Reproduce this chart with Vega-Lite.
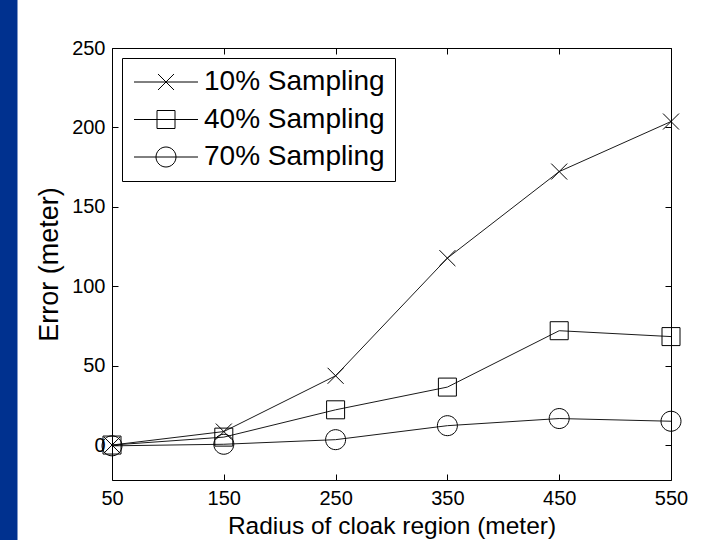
{
  "$schema": "https://vega.github.io/schema/vega-lite/v6.json",
  "width": 559,
  "height": 432,
  "autosize": {"type": "none"},
  "padding": {"left": 112, "top": 48, "right": 53, "bottom": 60},
  "background": "#00318F",
  "config": {
    "view": {"stroke": "white", "strokeWidth": 189, "fill": "white"},
    "font": "Liberation Sans",
    "axis": {
      "domainColor": "black",
      "domainWidth": 1,
      "tickColor": "black",
      "tickWidth": 1,
      "tickSize": -6,
      "grid": false,
      "labelFont": "Liberation Sans",
      "labelFontSize": 20,
      "labelColor": "black",
      "titleFont": "Liberation Sans",
      "titleFontWeight": "normal",
      "titleColor": "black"
    }
  },
  "data": {
    "values": [
      {"r": 50, "err": 0, "s": "10% Sampling"},
      {"r": 150, "err": 8.5, "s": "10% Sampling"},
      {"r": 250, "err": 43.6, "s": "10% Sampling"},
      {"r": 350, "err": 117.7, "s": "10% Sampling"},
      {"r": 450, "err": 172.2, "s": "10% Sampling"},
      {"r": 550, "err": 203.7, "s": "10% Sampling"},
      {"r": 50, "err": 0, "s": "40% Sampling"},
      {"r": 150, "err": 5, "s": "40% Sampling"},
      {"r": 250, "err": 22.2, "s": "40% Sampling"},
      {"r": 350, "err": 36.5, "s": "40% Sampling"},
      {"r": 450, "err": 72, "s": "40% Sampling"},
      {"r": 550, "err": 68.3, "s": "40% Sampling"},
      {"r": 50, "err": -0.5, "s": "70% Sampling"},
      {"r": 150, "err": 0.5, "s": "70% Sampling"},
      {"r": 250, "err": 3.4, "s": "70% Sampling"},
      {"r": 350, "err": 12.2, "s": "70% Sampling"},
      {"r": 450, "err": 16.7, "s": "70% Sampling"},
      {"r": 550, "err": 15, "s": "70% Sampling"}
    ]
  },
  "layer": [
    {
      "mark": {"type": "line", "color": "#1a1a1a", "strokeWidth": 1},
      "encoding": {
        "x": {
          "field": "r", "type": "quantitative",
          "scale": {"domain": [50, 550], "nice": false, "zero": false},
          "axis": {"orient": "bottom", "values": [50, 150, 250, 350, 450, 550], "title": "Radius of cloak region (meter)", "titleFontSize": 24.5, "labelPadding": 14, "titlePadding": 6, "labelFlush": false}
        },
        "y": {
          "field": "err", "type": "quantitative",
          "scale": {"domain": [-22, 250], "nice": false, "zero": false},
          "axis": {"orient": "left", "values": [0, 50, 100, 150, 200, 250], "title": "Error (meter)", "titleFontSize": 27, "labelPadding": 13, "titlePadding": 8, "labelFlush": false}
        },
        "detail": {"field": "s", "type": "nominal"}
      }
    },
    {
      "mark": {"type": "point", "filled": false, "stroke": "black", "strokeWidth": 1, "size": 100, "opacity": 1},
      "encoding": {
        "x": {
          "field": "r", "type": "quantitative",
          "axis": {"orient": "top", "values": [50, 150, 250, 350, 450, 550], "labels": false, "title": null}
        },
        "y": {
          "field": "err", "type": "quantitative",
          "axis": {"orient": "right", "values": [0, 50, 100, 150, 200, 250], "labels": false, "title": null}
        },
        "shape": {
          "field": "s", "type": "nominal",
          "scale": {
            "domain": ["10% Sampling", "40% Sampling", "70% Sampling"],
            "range": [
              "M-1.6,-1.6L1.6,1.6M-1.6,1.6L1.6,-1.6",
              "M-1.8,-1.8H1.8V1.8H-1.8Z",
              "M-2,0A2,2 0 1,0 2,0A2,2 0 1,0 -2,0Z"
            ]
          },
          "legend": null
        }
      }
    },
    {
      "transform": [{"filter": "datum.r < 0"}],
      "mark": {"type": "point", "filled": false, "color": "black", "strokeWidth": 1, "opacity": 1},
      "encoding": {
        "x": {"field": "r", "type": "quantitative", "axis": null},
        "y": {"field": "err", "type": "quantitative", "axis": null},
        "shape": {
          "field": "s", "type": "nominal",
          "scale": {
            "domain": ["10% Sampling", "40% Sampling", "70% Sampling"],
            "range": [
              "M-1,0H4.333M1,-0.667L2.333,0.667M1,0.667L2.333,-0.667",
              "M-1,0H4.333M0.917,-0.75H2.417V0.75H0.917Z",
              "M-1,0H4.333M0.833,0A0.833,0.833 0 1,0 2.5,0A0.833,0.833 0 1,0 0.833,0Z"
            ]
          },
          "legend": {
            "title": null,
            "orient": "top-left",
            "offset": 10,
            "fillColor": "white",
            "strokeColor": "black",
            "padding": 10,
            "labelFontSize": 28,
            "labelFont": "Liberation Sans",
            "labelColor": "black",
            "labelLimit": 400,
            "labelOffset": 44,
            "rowPadding": 9.5,
            "symbolSize": 576,
            "symbolStrokeColor": "black",
            "symbolStrokeWidth": 1,
            "symbolFillColor": "transparent"
          }
        }
      }
    }
  ],
  "resolve": {"axis": {"x": "independent", "y": "independent"}, "scale": {"shape": "independent"}}
}
